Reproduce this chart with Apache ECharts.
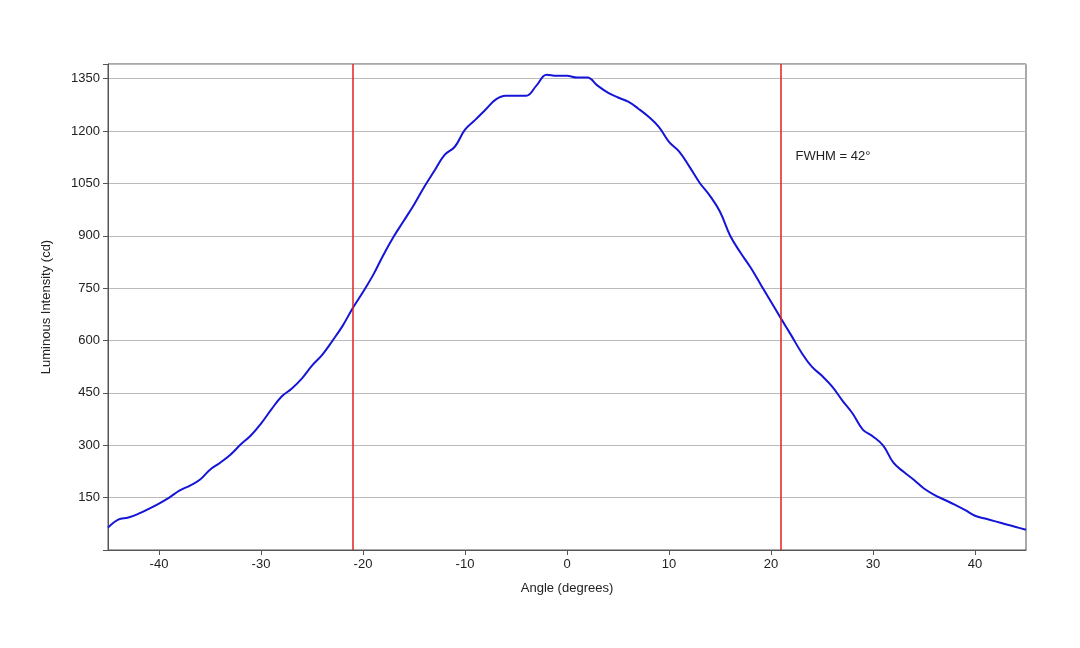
<!DOCTYPE html>
<html><head><meta charset="utf-8">
<script src="https://cdn.jsdelivr.net/npm/echarts@6/dist/echarts.min.js"></script>
<style>html,body{margin:0;background:#fff}#c{width:1080px;height:648px}</style></head>
<body><div id="c"></div>
<script>
const angles = [];
for (let a = -45; a <= 45; a++) angles.push(a);
const intensity = [64,87,93,104,118,133,150,170,184,201,230,250,273,302,328,362,402,439,462,491,528,559,599,642,693,739,788,845,897,943,989,1040,1086,1132,1155,1204,1232,1261,1290,1301,1301,1301,1330,1361,1358,1358,1353,1353,1330,1310,1296,1284,1264,1241,1212,1169,1141,1098,1052,1015,969,900,852,809,760,711,662,614,565,525,499,468,428,391,345,325,299,250,224,201,176,158,144,130,115,98,90,82,74,66,58];
const xTicks = [-40,-30,-20,-10,0,10,20,30,40];
const fwhmLines = [-21, 21];
const fwhmText = 'FWHM = 42°';
const chart = echarts.init(document.getElementById('c'));
chart.setOption({
  animation:false,
  grid:{left:108,right:54,top:64,bottom:98,show:true,borderColor:'#555',borderWidth:1},
  xAxis:{type:'value',min:-45,max:45,name:'Angle (degrees)',nameLocation:'middle',nameGap:32,
    nameTextStyle:{color:'#222',fontSize:13,fontFamily:'Liberation Sans'},
    axisLine:{onZero:false,lineStyle:{color:'#555'}},
    axisTick:{show:true,length:5,customValues:xTicks,lineStyle:{color:'#555'}},
    axisLabel:{color:'#222',fontSize:13,fontFamily:'Liberation Sans',customValues:xTicks},
    splitLine:{show:false}},
  yAxis:{type:'value',min:0,max:1392,interval:150,name:'Luminous Intensity (cd)',nameLocation:'middle',nameGap:55,
    nameTextStyle:{color:'#222',fontSize:13,fontFamily:'Liberation Sans'},
    axisLine:{show:true,onZero:false,lineStyle:{color:'#555'}},axisTick:{show:true,length:5,lineStyle:{color:'#555'}},
    axisLabel:{color:'#222',fontSize:13,fontFamily:'Liberation Sans',formatter:v=>(v===0||v%150!==0?'':v)},
    splitLine:{lineStyle:{color:'#bbb'}}},
  series:[{type:'line',data:angles.map((a,i)=>[a,intensity[i]]),smooth:0.4,symbol:'none',
    lineStyle:{color:'#1515d8',width:2},
    markLine:{silent:true,symbol:'none',label:{show:false},lineStyle:{color:'#e02020',type:'solid',width:1.5},
      data:fwhmLines.map(x=>({xAxis:x}))},
    markPoint:{symbol:'circle',symbolSize:0,data:[{coord:[22.4,1127],label:{show:true,position:'right',distance:0,formatter:fwhmText,color:'#222',fontSize:13,fontFamily:'Liberation Sans'}}]}
  }]
});
</script></body></html>
